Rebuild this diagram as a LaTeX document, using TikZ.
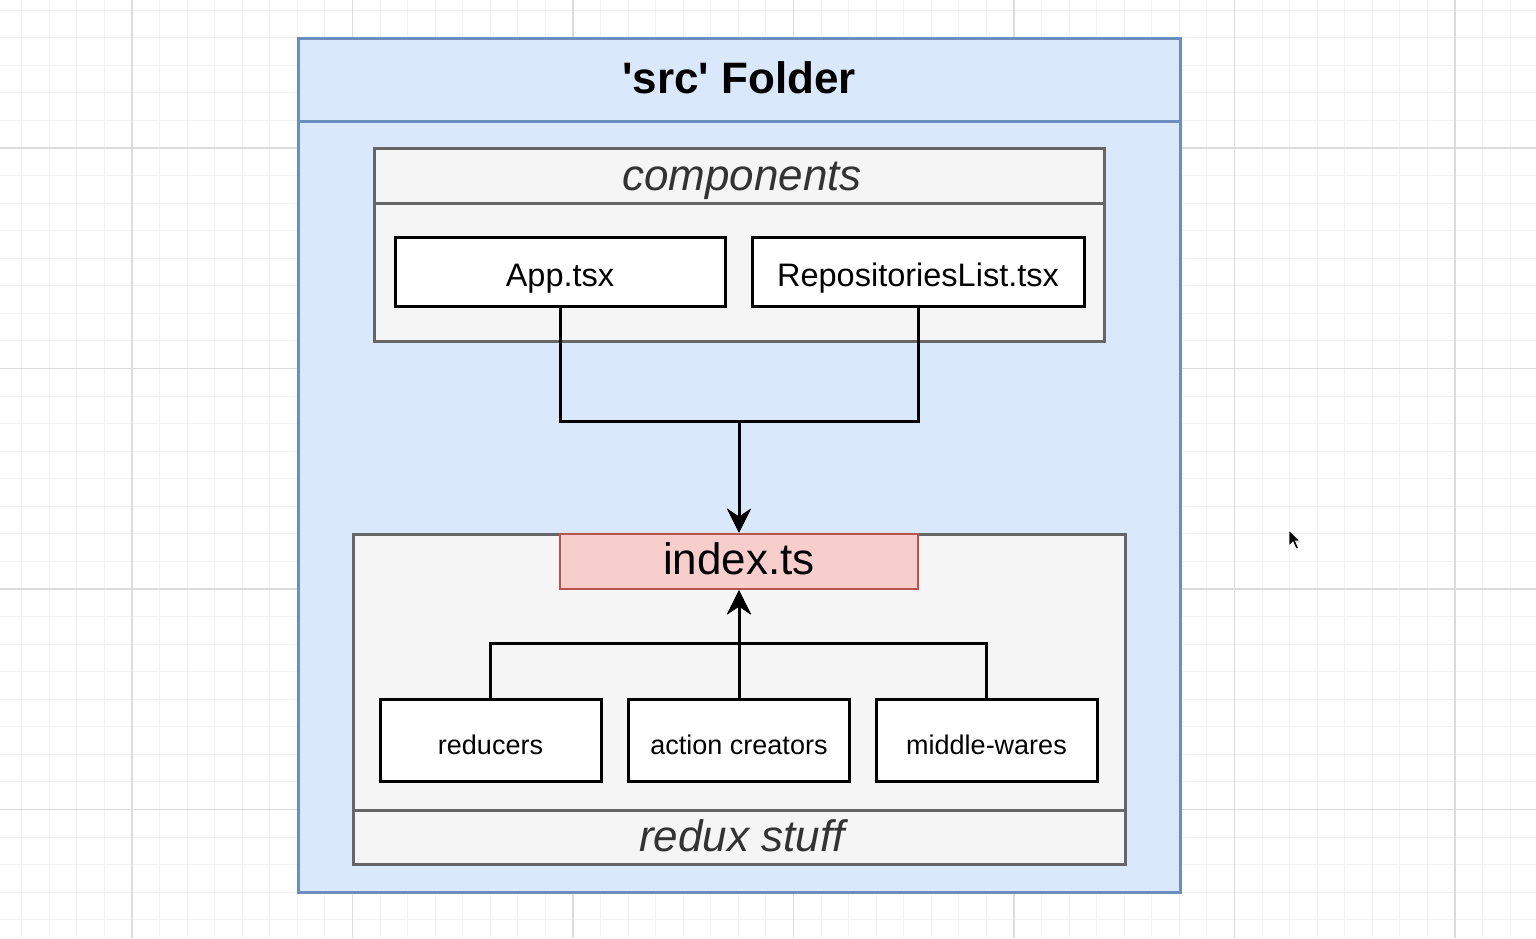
\documentclass[tikz,border=0pt]{standalone}
\usepackage{fontspec}
\setmainfont{Liberation Sans}[Ligatures=TeXOff]
\usetikzlibrary{arrows.meta}

\definecolor{gridminor}{HTML}{F2F2F2}
\definecolor{gridmajor}{HTML}{DCDCDC}
\definecolor{blueFill}{HTML}{DAE8FC}
\definecolor{blueLine}{HTML}{6C8EBF}
\definecolor{grayFill}{HTML}{F5F5F5}
\definecolor{grayLine}{HTML}{666666}
\definecolor{redFill}{HTML}{F8CECC}
\definecolor{redLine}{HTML}{B85450}
\definecolor{labelgray}{HTML}{333333}

\tikzset{
  box/.style={draw, rectangle, inner sep=0pt, line width=3pt, text depth=0pt},
  folder/.style={box, fill=blueFill, draw=blueLine, line width=3pt},
  container/.style={box, fill=grayFill, draw=grayLine},
  file/.style={box, fill=white, draw=black, text height=30pt, font=\fontsize{32.5}{36}\selectfont},
  part/.style={box, fill=white, draw=black, text height=28pt, font=\fontsize{27}{32}\selectfont},
  entry/.style={box, fill=redFill, draw=redLine, line width=2.8pt, text height=25.6pt, font=\fontsize{44}{50}\selectfont},
  caption/.style={inner sep=0pt, text=labelgray, text height=28pt, text depth=0pt, font=\fontsize{44}{50}\selectfont\itshape},
  link/.style={line width=3pt, -{Stealth[length=24pt,width=24pt,inset=8pt,fill=black,line width=1pt]}},
}

\begin{document}
\begin{tikzpicture}[x=1pt,y=-1pt]
\useasboundingbox (0,0) rectangle (1536,938);
\fill[white] (0,0) rectangle (1536,938);

% background grid
\foreach \i in {0,...,54}
  \draw[gridminor, line width=1pt] ({21.76+27.5625*\i},0) -- ({21.76+27.5625*\i},938);
\foreach \j in {0,...,33}
  \draw[gridminor, line width=1pt] (0,{10.2+27.5625*\j}) -- (1536,{10.2+27.5625*\j});
\foreach \i in {0,...,6}
  \draw[gridmajor, line width=1.2pt] ({132+220.5*\i},0) -- ({132+220.5*\i},938);
\foreach \j in {0,...,3}
  \draw[gridmajor, line width=1.2pt] (0,{148+220.5*\j}) -- (1536,{148+220.5*\j});

% 'src' folder
\node[folder, minimum width=882, minimum height=854] (src) at (739,465) {};
\draw[blueLine, line width=3pt] (src.west |- 0,121) -- (src.east |- 0,121);
\node[inner sep=0pt, font=\fontsize{44}{50}\selectfont\bfseries] (title) at (739,78) {'src' Folder};

% components group
\node[container, minimum width=730, minimum height=193] (comp) at (739,244.5) {};
\draw[grayLine, line width=3pt] (comp.west |- 0,203) -- (comp.east |- 0,203);
\node[caption] (complabel) at (742,176) {components};
\node[file, minimum width=330, minimum height=69] (app) at (560,271.5) {App.tsx};
\node[file, minimum width=332, minimum height=69] (repo) at (918,271.5) {RepositoriesList.tsx};

% redux group
\node[container, minimum width=772, minimum height=330] (redux) at (739,699) {};
\draw[grayLine, line width=3pt] (redux.west |- 0,810) -- (redux.east |- 0,810);
\node[caption] (reduxlabel) at (742,837) {redux stuff};
\node[entry, minimum width=358, minimum height=55] (idx) at (739,561.5) {index.ts};
\node[part, minimum width=221, minimum height=82] (red) at (490.5,740) {reducers};
\node[part, minimum width=221, minimum height=82] (act) at (739,740) {action creators};
\node[part, minimum width=221, minimum height=82] (mid) at (986.5,740) {middle-wares};

% connectors
\draw[link] (app.south) -- ++(0,114) -| (idx.north);
\draw[link] (repo.south) -- ++(0,114) -| (idx.north);
\draw[link] (red.north) -- ++(0,-54) -| (idx.south);
\draw[link] (mid.north) -- ++(0,-54) -| (idx.south);
\draw[link] (act.north) -- (idx.south);

% pointer
\filldraw[fill=black, draw=white, line width=0.8pt]
  (1289,530) -- (1289,546) -- (1293,542) -- (1296,549) -- (1298.5,548)
  -- (1295.5,541) -- (1300,541) -- cycle;
\end{tikzpicture}
\end{document}
